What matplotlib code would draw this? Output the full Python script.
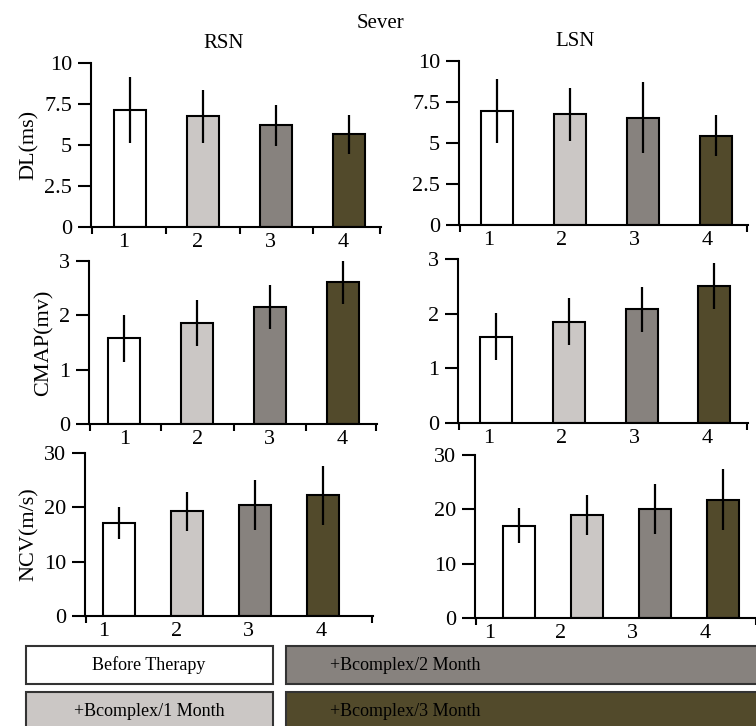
import numpy as np
import matplotlib.pyplot as plt
from matplotlib.patches import Rectangle

plt.rcParams['font.family'] = ['Liberation Serif', 'DejaVu Serif']

groups = ['Before Therapy', '+Bcomplex/1 Month', '+Bcomplex/2 Month', '+Bcomplex/3 Month']
colors = ['#ffffff', '#cbc7c5', '#87827e', '#524a2b']
tick_names = ['1', '2', '3', '4']

# mean and SD
dl_rsn = [7.15, 6.75, 6.2, 5.65]
dl_rsn_sd = [2.0, 1.6, 1.25, 1.2]
dl_lsn = [6.95, 6.75, 6.55, 5.45]
dl_lsn_sd = [1.95, 1.6, 2.15, 1.25]
cmap_rsn = [1.58, 1.86, 2.15, 2.62]
cmap_rsn_sd = [0.43, 0.42, 0.41, 0.42]
cmap_lsn = [1.58, 1.85, 2.08, 2.5]
cmap_lsn_sd = [0.43, 0.43, 0.41, 0.42]
ncv_rsn = [17.1, 19.3, 20.5, 22.2]
ncv_rsn_sd = [3.0, 3.6, 4.6, 5.4]
ncv_lsn = [17.0, 18.9, 20.0, 21.8]
ncv_lsn_sd = [3.2, 3.7, 4.6, 5.6]

W, H = 756, 726
fig = plt.figure(figsize=(W / 100, H / 100), dpi=100)


def px_axes(left, right, top, bottom):
    return fig.add_axes([left / W, 1 - bottom / H, (right - left) / W, (bottom - top) / H])


def panel(rect, xlim, means, sds, ymax, yticks, yticklabels, width, lab_pos, inner_ticks, ylabel=None):
    ax = px_axes(*rect)
    x = np.arange(len(means))
    ax.bar(x, means, width=width, color=colors, edgecolor='black', linewidth=1.5, zorder=2)
    ax.errorbar(x, means, yerr=sds, fmt='none', ecolor='black', elinewidth=1.6, capsize=0, zorder=3)
    ax.set_xlim(*xlim)
    ax.set_ylim(0, ymax)
    for s in ['top', 'right']:
        ax.spines[s].set_visible(False)
    for s in ['left', 'bottom']:
        ax.spines[s].set_linewidth(1.5)
    ax.set_yticks(yticks)
    ax.set_yticklabels(yticklabels, fontsize=16)
    ax.tick_params(axis='y', length=9.5, width=1.5, pad=4)
    ax.set_xticks(lab_pos)
    ax.set_xticklabels(tick_names, fontsize=16)
    ax.tick_params(axis='x', which='major', length=0, pad=4)
    minor = [xlim[0] + 0.01] + ([0.5, 1.5, 2.5] if inner_ticks else []) + [xlim[1] - 0.01]
    ax.set_xticks(minor, minor=True)
    ax.tick_params(axis='x', which='minor', length=5, width=1.5, direction='out')
    if ylabel:
        ax.set_ylabel(ylabel, fontsize=16, labelpad=4)
    return ax


pos = np.arange(4)
dl_ticks = [0, 2.5, 5, 7.5, 10]
dl_labels = ['0', '2.5', '5', '7.5', '10']

panel((91, 381, 63, 227), (-0.534, 3.438), dl_rsn, dl_rsn_sd, 10, dl_ticks, dl_labels,
      0.43, pos - 0.08, True, 'DL(ms)')
panel((459, 748, 61, 225), (-0.521, 3.438), dl_lsn, dl_lsn_sd, 10, dl_ticks, dl_labels,
      0.43, pos - 0.12, False)
panel((89, 377, 261, 424), (-0.488, 3.473), cmap_rsn, cmap_rsn_sd, 3, [0, 1, 2, 3], ['0', '1', '2', '3'],
      0.44, pos, True, 'CMAP(mv)')
panel((458, 748, 259, 423), (-0.522, 3.462), cmap_lsn, cmap_lsn_sd, 3, [0, 1, 2, 3], ['0', '1', '2', '3'],
      0.44, pos - 0.1, False)
panel((85, 373, 453, 616), (-0.5, 3.735), ncv_rsn, ncv_rsn_sd, 30, [0, 10, 20, 30], ['0', '10', '20', '30'],
      0.47, [-0.22, 0.84, 1.90, 2.97], False, 'NCV(m/s)')
panel((475, 757, 455, 618), (-0.64, 3.507), ncv_lsn, ncv_lsn_sd, 30, [0, 10, 20, 30], ['0', '10', '20', '30'],
      0.47, [-0.43, 0.62, 1.68, 2.74], False)

fig.text(381 / W, 1 - 23 / H, 'Sever', ha='center', va='center', fontsize=15)
fig.text(224 / W, 1 - 43 / H, 'RSN', ha='center', va='center', fontsize=15)
fig.text(575 / W, 1 - 42 / H, 'LSN', ha='center', va='center', fontsize=15)

# legend boxes under the panels
boxes = [(26, 273, 646, 684, 149), (26, 273, 692, 730, 149),
         (286, 780, 646, 684, 405), (286, 780, 692, 730, 405)]
for (l, r, t, b, tx), name, c in zip(boxes, groups, colors):
    fig.patches.append(Rectangle((l / W, 1 - b / H), (r - l) / W, (b - t) / H,
                                 transform=fig.transFigure, facecolor=c,
                                 edgecolor='#333333', linewidth=1.5, figure=fig))
    fig.text(tx / W, 1 - (t + b) / 2 / H, name, ha='center', va='center', fontsize=13,
             color='black')

fig.savefig('out.png', dpi=100)
